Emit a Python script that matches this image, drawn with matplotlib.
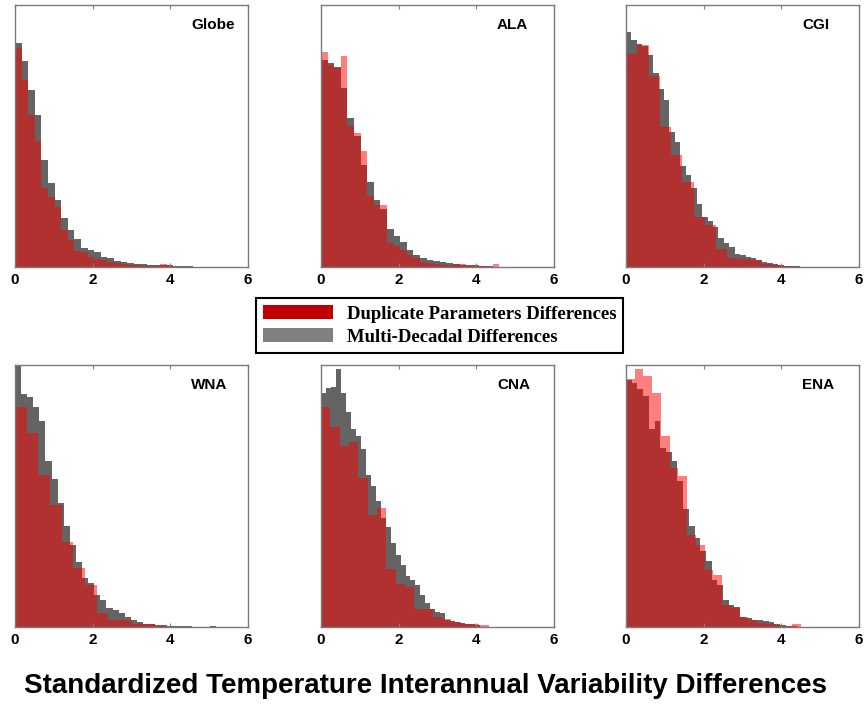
import matplotlib
matplotlib.use("Agg")
import matplotlib.pyplot as plt
import numpy as np
from matplotlib.patches import Patch

plt.rcParams["font.family"] = ["Liberation Sans", "DejaVu Sans"]

# regions, in panel order
regions = ["Globe", "ALA", "CGI", "WNA", "CNA", "ENA"]
x_ticks = [0, 2, 4, 6]
legend_labels = ["Duplicate Parameters Differences", "Multi-Decadal Differences"]
title = "Standardized Temperature Interannual Variability Differences"

# histogram bin widths (duplicate params, multi-decadal)
globe_width = (0.17, 0.17)
ala_width = (0.17, 0.17)
cgi_width = (0.29, 0.14)
wna_width = (0.30, 0.157)
cna_width = (0.24, 0.128)
ena_width = (0.225, 0.147)

# bar heights (% of panel height), one value per bin from 0
globe_dup = [83.7, 71.3, 58, 48, 30, 26.8, 22.9, 14, 10.2, 6.1, 5.7, 3.8, 3.2,
             2.5, 1.9, 1.5, 1.0, 0.8, 0.6, 0.5, 0.5, 0.4, 1.0, 0.8, 0.1, 0.05]
globe_dec = [85.4, 78.6, 67.5, 58, 41, 32, 25.7, 18.7, 14, 10.8, 7.4, 6.6, 5.7,
             3.8, 3.6, 2.3, 2.0, 1.6, 1.3, 1.0, 0.9, 0.8, 0.7, 0.6, 0.5, 0.3, 0.2]

ala_dup = [82, 77, 76, 80.5, 54, 51, 44.3, 27, 23.6, 23.6, 9, 8, 6.5, 4.6, 3.3,
           2.0, 1.4, 1.0, 0.6, 0.5, 1.3, 1.3, 0.3, 0.2, 0.2, 0.0, 1.0]
ala_dec = [79, 78, 76.5, 68.5, 56.7, 50, 39, 32.5, 25.6, 22, 14.6, 12, 9.5, 6.5,
           4.6, 3.3, 2.7, 2.4, 2.0, 1.4, 1.0, 0.7, 0.6, 0.8, 0.3, 0.2]

cgi_dup = [81.3, 84.7, 73, 53.5, 42.7, 32.5, 19.1, 15.9, 7.0, 3.6, 3.2, 2.5, 1.3,
           0.8, 0.3]
cgi_dec = [89.8, 86.6, 85.3, 84.5, 80.9, 73.9, 67.9, 63.8, 51.4, 47.8, 38.7, 35.1,
           30.0, 24, 19.2, 17.5, 15.4, 10.9, 9.0, 7.7, 4.8, 4.5, 4.0, 3.5, 2.6,
           2.0, 1.5, 1.0, 0.8, 0.5, 0.3, 0.2, 0.15, 0.1]

wna_dup = [83.8, 74.2, 58.2, 46.6, 32.6, 22.4, 16.0, 5.2, 2.6, 2.6, 1.3, 1.3, 0.5]
wna_dec = [99.5, 88.9, 87.6, 83.8, 78.7, 63.4, 56.3, 47.4, 38.4, 31.4, 25.0, 18.6,
           16.7, 12.2, 10.3, 7.1, 6.4, 5.2, 3.9, 2.6, 2.0, 1.3, 1.0, 0.8, 0.6,
           0.5, 0.4, 0.3, 0.2, 0.15, 0.1, 0.0, 0.2]

cna_dup = [84.1, 76.4, 69.0, 70.7, 57.0, 42.8, 45.5, 22.0, 16.5, 15.3, 7.0, 7.0,
           3.8, 3.0, 1.9, 1.3, 1.3, 0.6]
cna_dec = [89.5, 91.2, 91.7, 98.5, 89.5, 81.9, 75.5, 73.0, 67.8, 58.2, 53.8, 48.1,
           41.5, 38.2, 32.0, 27.6, 23.8, 19.3, 18.0, 16.1, 12.3, 9.1, 6.9, 5.9,
           5.3, 2.7, 2.1, 1.8, 1.5, 1.2, 1.0, 0.8]

ena_dup = [94.6, 98.5, 95.9, 89.2, 73.0, 60.8, 57.6, 35.3, 31.4, 21.8, 19.9, 8.4,
           7.4, 3.9, 2.7, 1.5, 1.2, 0.8, 0.3, 1.3]
ena_dec = [94.3, 93, 90.8, 88.3, 75.5, 78.7, 68.5, 66.9, 63.4, 55.7, 44.9, 38.5,
           34.0, 28.9, 25.1, 18.0, 16.1, 10.4, 8.4, 7.8, 3.9, 3.3, 2.7, 2.7, 2.2,
           1.8, 1.2, 0.8, 0.5, 0.3]

panels = [
    (globe_dup, globe_dec, globe_width),
    (ala_dup, ala_dec, ala_width),
    (cgi_dup, cgi_dec, cgi_width),
    (wna_dup, wna_dec, wna_width),
    (cna_dup, cna_dec, cna_width),
    (ena_dup, ena_dec, ena_width),
]

GRAY = "#646464"
RED = (1.0, 0.0, 0.0, 0.5)

fig = plt.figure(figsize=(8.64, 7.07), dpi=100)

lefts = [15, 321, 626]
tops = [5, 365]
for i, (name, (dup, dec, width)) in enumerate(zip(regions, panels)):
    x0 = lefts[i % 3]
    y0 = tops[i // 3]
    ax = fig.add_axes([x0 / 864, 1 - (y0 + 262) / 707, 233 / 864, 262 / 707])

    dec_edges = np.arange(len(dec) + 1) * width[1]
    dup_edges = np.arange(len(dup) + 1) * width[0]
    ax.stairs(dec, dec_edges, fill=True, color=GRAY, linewidth=0)
    ax.stairs(dup, dup_edges, fill=True, color=RED, linewidth=0)

    ax.set_xlim(0, 6)
    ax.set_ylim(0, 100)
    ax.set_yticks([])
    ax.set_xticks(x_ticks)
    ax.set_xticklabels([str(t) for t in x_ticks], fontweight="bold", fontsize=11)
    ax.tick_params(axis="x", direction="in", top=True, length=3, width=0.8,
                   color="#808080", pad=4)
    for sp in ax.spines.values():
        sp.set_color("#7a7a7a")
        sp.set_linewidth(1.0)
    ax.text(0.755, 0.925, name, transform=ax.transAxes, ha="left", va="center",
            fontsize=11, fontweight="bold")

handles = [Patch(facecolor="#C00000", edgecolor="none"),
           Patch(facecolor="#808080", edgecolor="none")]
leg = fig.legend(handles, legend_labels, loc="center", bbox_to_anchor=(0.509, 0.5396),
                 prop={"family": "Liberation Serif", "weight": "bold", "size": 13.5},
                 handlelength=3.7, handleheight=0.75, handletextpad=0.75,
                 labelspacing=0.3, borderpad=0.38, borderaxespad=0,
                 fancybox=False, framealpha=1)
leg.get_frame().set_edgecolor("black")
leg.get_frame().set_linewidth(1.5)

fig.text(0.493, 0.0297, title, ha="center", va="center", fontsize=20,
         fontweight="bold")

fig.savefig("out.png", dpi=100)
